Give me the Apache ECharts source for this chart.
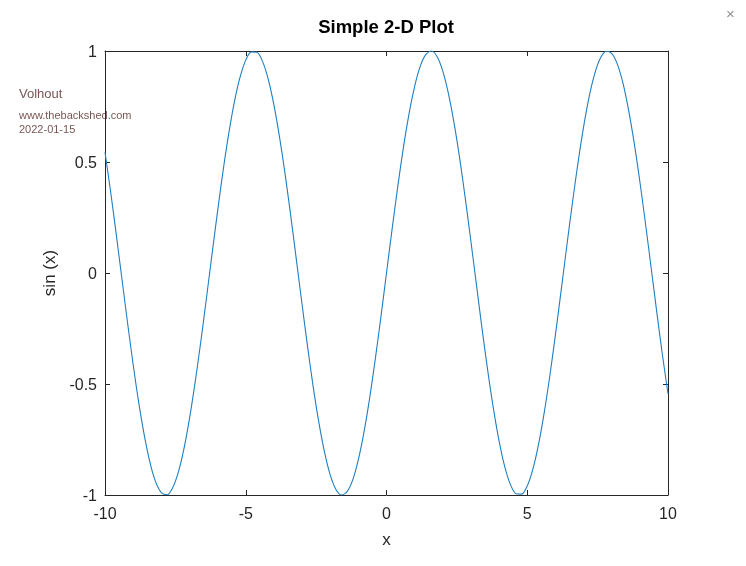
<!DOCTYPE html>
<html>
<head>
<meta charset="utf-8">
<script src="https://cdn.jsdelivr.net/npm/echarts@6/dist/echarts.min.js"></script>
<style>
html,body{margin:0;padding:0;background:#fff;}
#chart{width:746px;height:566px;}
</style>
</head>
<body>
<div id="chart"></div>
<script>
const titleText = 'Simple 2-D Plot';
const xName = 'x';
const yName = 'sin (x)';
const notes = ['Volhout', 'www.thebackshed.com', '2022-01-15'];
const xTicks = [-10, -5, 0, 5, 10];
const yTicks = [-1, -0.5, 0, 0.5, 1];
const xs = [-10,-9.8,-9.6,-9.4,-9.2,-9,-8.8,-8.6,-8.4,-8.2,-8,-7.8,-7.6,-7.4,-7.2,-7,-6.8,-6.6,-6.4,-6.2,-6,-5.8,-5.6,-5.4,-5.2,-5,-4.8,-4.6,-4.4,-4.2,-4,-3.8,-3.6,-3.4,-3.2,-3,-2.8,-2.6,-2.4,-2.2,-2,-1.8,-1.6,-1.4,-1.2,-1,-0.8,-0.6,-0.4,-0.2,0,0.2,0.4,0.6,0.8,1,1.2,1.4,1.6,1.8,2,2.2,2.4,2.6,2.8,3,3.2,3.4,3.6,3.8,4,4.2,4.4,4.6,4.8,5,5.2,5.4,5.6,5.8,6,6.2,6.4,6.6,6.8,7,7.2,7.4,7.6,7.8,8,8.2,8.4,8.6,8.8,9,9.2,9.4,9.6,9.8,10];
const ys = [0.544,0.366,0.174,-0.025,-0.223,-0.412,-0.585,-0.734,-0.855,-0.941,-0.989,-0.999,-0.968,-0.899,-0.794,-0.657,-0.494,-0.312,-0.117,0.083,0.279,0.465,0.631,0.773,0.883,0.959,0.996,0.994,0.952,0.872,0.757,0.612,0.443,0.256,0.058,-0.141,-0.335,-0.516,-0.675,-0.808,-0.909,-0.974,-1.000,-0.985,-0.932,-0.841,-0.717,-0.565,-0.389,-0.199,0,0.199,0.389,0.565,0.717,0.841,0.932,0.985,1.000,0.974,0.909,0.808,0.675,0.516,0.335,0.141,-0.058,-0.256,-0.443,-0.612,-0.757,-0.872,-0.952,-0.994,-0.996,-0.959,-0.883,-0.773,-0.631,-0.465,-0.279,-0.083,0.117,0.312,0.494,0.657,0.794,0.899,0.968,0.999,0.989,0.941,0.855,0.734,0.585,0.412,0.223,0.025,-0.175,-0.367,-0.544];

const data = xs.map((x, i) => [x, ys[i]]);
const axisColor = '#262626';
const font = 'Arial, "Liberation Sans", Helvetica, sans-serif';

const chart = echarts.init(document.getElementById('chart'), null, {renderer: 'canvas'});
const baseX = {
  type: 'value', min: xTicks[0], max: xTicks[xTicks.length - 1], interval: 5,
  axisLine: {show: true, onZero: false, lineStyle: {color: axisColor, width: 1}},
  axisTick: {show: true, inside: true, length: 5, lineStyle: {color: axisColor}},
  splitLine: {show: false}
};
const baseY = {
  type: 'value', min: yTicks[0], max: yTicks[yTicks.length - 1], interval: 0.5,
  axisLine: {show: true, onZero: false, lineStyle: {color: axisColor, width: 1}},
  axisTick: {show: true, inside: true, length: 5, lineStyle: {color: axisColor}},
  splitLine: {show: false}
};
chart.setOption({
  animation: false,
  backgroundColor: '#ffffff',
  grid: {left: 105, right: 78, top: 51, bottom: 71, containLabel: false},
  xAxis: [
    Object.assign({}, baseX, {
      position: 'bottom',
      name: xName, nameLocation: 'middle', nameGap: 37,
      nameTextStyle: {fontSize: 17, color: axisColor, fontFamily: font},
      axisLabel: {fontSize: 16, color: axisColor, margin: 12, fontFamily: font}
    }),
    Object.assign({}, baseX, {position: 'top', axisLabel: {show: false}})
  ],
  yAxis: [
    Object.assign({}, baseY, {
      position: 'left',
      name: yName, nameLocation: 'middle', nameGap: 40, nameRotate: 90,
      nameTextStyle: {fontSize: 17, color: axisColor, fontFamily: font},
      axisLabel: {fontSize: 16, color: axisColor, margin: 8, fontFamily: font, verticalAlign: 'top', lineHeight: 4}
    }),
    Object.assign({}, baseY, {position: 'right', axisLabel: {show: false}})
  ],
  series: [{
    type: 'line', data: data, showSymbol: false, smooth: 0.3,
    lineStyle: {color: '#1f7fc0', width: 1.1},
    xAxisIndex: 0, yAxisIndex: 0
  }],
  graphic: [
    {type: 'text', x: 386, y: 18, style: {text: titleText, fill: '#000', font: 'bold 18.5px ' + font, textAlign: 'center'}},
    {type: 'text', x: 19, y: 88, style: {text: notes[0], fill: '#7a5656', font: '13px ' + font}},
    {type: 'text', x: 19, y: 110, style: {text: notes[1], fill: '#7a5656', font: '11px ' + font}},
    {type: 'text', x: 19, y: 124, style: {text: notes[2], fill: '#7a5656', font: '11px ' + font}},
    {type: 'text', x: 726, y: 7, style: {text: '×', fill: '#909090', font: '15px ' + font}}
  ]
});
</script>
</body>
</html>
